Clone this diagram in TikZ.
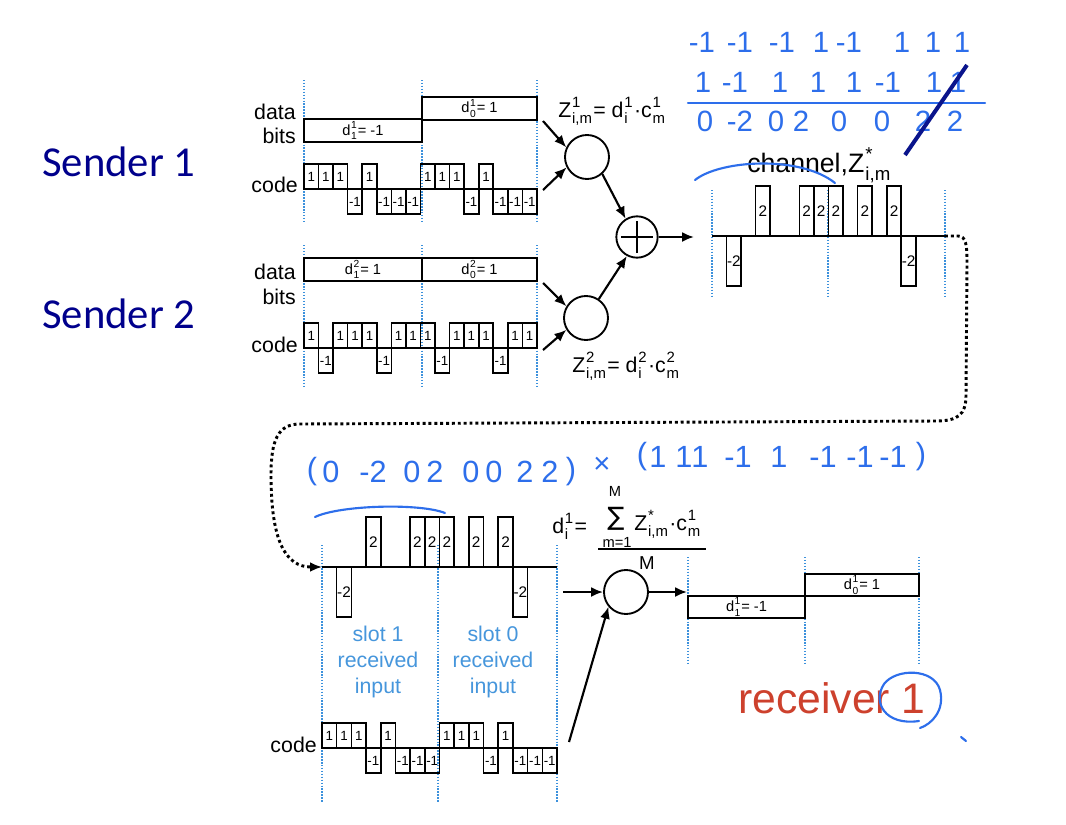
\documentclass[tikz,border=0pt]{standalone}
\usepackage{fontspec}
\setmainfont{Liberation Sans}
\newfontfamily\sendfont{Carlito}
\newfontfamily\dvs{DejaVu Sans}
\usepackage{graphicx}
\usetikzlibrary{arrows.meta}
\definecolor{guide}{RGB}{60,145,220}
\definecolor{slotblue}{RGB}{70,150,220}
\definecolor{hand}{RGB}{45,110,235}
\definecolor{navyslash}{RGB}{10,20,140}
\definecolor{sendcol}{RGB}{0,0,140}
\definecolor{recvred}{RGB}{205,65,45}
\newcommand{\fsz}[1]{\fontsize{#1}{#1}\selectfont}
\newcommand{\supb}[2]{%
  \setbox0\hbox{\scalebox{0.7}{#1}}%
  \setbox2\hbox{\scalebox{0.7}{#2}}%
  \kern0.04em\rlap{\raise0.85ex\copy0}\rlap{\lower0.6ex\copy2}%
  \ifdim\wd0>\wd2 \kern\wd0\else\kern\wd2\fi\kern0.06em}
\newcommand{\wave}[6]{%
  \foreach \v [count=\i from 0] in {#6}{%
    \ifnum\v=0\relax\else
      \pgfmathsetmacro{\cx}{#1+(\i+0.5)*#3}%
      \ifnum\v>0\relax\pgfmathsetmacro{\cy}{#2-#4/2}\else\pgfmathsetmacro{\cy}{#2+#4/2}\fi
      \node[chip, minimum width=#3*0.75pt, minimum height=#4*0.75pt] (#5\i) at (\cx,\cy) {\v};
    \fi}}
\newcommand{\dbox}[6]{%
  \node[databox, minimum width=(#4-#2)*0.75pt, minimum height=(#5-#3)*0.75pt] (#1) at ({(#2+#4)/2},{(#3+#5)/2}) {#6};}
\begin{document}
\begin{tikzpicture}[x=0.75pt,y=-0.75pt,
  line/.style={line width=1.3pt},
  chip/.style={draw, line width=1.2pt, inner sep=0pt, font=\fsz{10}},
  databox/.style={draw, line width=1.3pt, inner sep=0pt, font=\fsz{11}},
  guide/.style={draw=guide, line width=1.1pt, dash pattern=on 1.1pt off 1.1pt},
  circ/.style={draw, line width=1.4pt, circle, minimum size=33pt, inner sep=0pt},
  arr/.style={line width=1.6pt, -{Latex[length=9pt,width=7.5pt]}},
  dotconn/.style={line width=2.2pt, dash pattern=on 2.2pt off 2.2pt, -{Latex[length=9pt,width=7.5pt]}},
  lbl/.style={font=\fsz{16}, inner sep=0pt},
  formula/.style={font=\fsz{16}, inner sep=0pt},
  sender/.style={font=\sendfont\fsz{32}, text=sendcol, inner sep=0pt},
  slot/.style={font=\fontsize{16}{19.5}\selectfont, text=slotblue, align=center, inner sep=0pt},
  hand/.style={font=\fsz{22}, text=hand, inner sep=0pt},
  handline/.style={draw=hand, line width=1.6pt, line cap=round}
]
\useasboundingbox (0,0) rectangle (1066,824);
\fill[white] (0,0) rectangle (1066,824);

% guide lines
\foreach \x in {304,422,537} {\draw[guide] (\x,80) -- (\x,222); \draw[guide] (\x,245) -- (\x,388);}
\foreach \x in {712,828,945} \draw[guide] (\x,190) -- (\x,297);
\foreach \x in {322,438,557} \draw[guide] (\x,545) -- (\x,802);
\foreach \x in {688,805,919} \draw[guide] (\x,557) -- (\x,665);

% sender labels
\node[sender, anchor=base west] (snd1) at (42,176) {Sender 1};
\node[sender, anchor=base west] (snd2) at (42,328) {Sender 2};

% row labels
\node[lbl, anchor=base east] (s1data) at (296,119) {data};
\node[lbl, anchor=base east] (s1bits) at (296,143) {bits};
\node[lbl, anchor=base east] (s1code) at (298,192) {code};
\node[lbl, anchor=base east] (s2data) at (296,279) {data};
\node[lbl, anchor=base east] (s2bits) at (296,304) {bits};
\node[lbl, anchor=base east] (s2code) at (298,352) {code};
\node[lbl, anchor=base east] (rcodel) at (317,752) {code};

% data boxes
\dbox{s1b1}{304}{119}{422}{142}{d\supb{1}{1} = -1}
\dbox{s1b0}{422}{97}{537}{120}{d\supb{1}{0} = 1}
\dbox{s2b1}{304}{258}{422}{281}{d\supb{2}{1} = 1}
\dbox{s2b0}{422}{258}{537}{281}{d\supb{2}{0} = 1}
\dbox{rb1}{688}{596}{805}{618}{d\supb{1}{1} = -1}
\dbox{rb0}{805}{574}{919}{596}{d\supb{1}{0} = 1}

% code waveforms
\wave{304}{189}{14.56}{25}{sa}{1,1,1,-1,1,-1,-1,-1,1,1,1,-1,1,-1,-1,-1}
\wave{304}{348}{14.56}{25}{sb}{1,-1,1,1,1,-1,1,1,1,-1,1,1,1,-1,1,1}
\wave{322}{748}{14.69}{25}{rc}{1,1,1,-1,1,-1,-1,-1,1,1,1,-1,1,-1,-1,-1}

% channel waveforms
\coordinate (chstart) at (712,236);
\coordinate (chend) at (945,236);
\draw[line] (chstart) -- (chend);
\coordinate (lch0) at (322,567);
\coordinate (lch1) at (557,567);
\draw[line] (lch0) -- (lch1);
\begin{scope}[chip/.append style={font=\fsz{11.5}}]
\wave{712}{236}{14.56}{50}{ch}{0,-2,0,2,0,0,2,2,2,0,2,0,2,-2,0,0}
\wave{322}{567}{14.69}{50}{lc}{0,-2,0,2,0,0,2,2,2,0,2,0,2,-2,0,0}
\end{scope}

% circles
\node[circ] (c1) at (587,157) {};
\node[circ] (c2) at (586,318) {};
\node[circ, minimum size=31pt] (plus) at (637,237) {};
\draw[line width=2.2pt] ([xshift=-12pt]plus.center) -- ([xshift=12pt]plus.center);
\draw[line width=2.2pt] ([yshift=-12pt]plus.center) -- ([yshift=12pt]plus.center);
\node[circ] (rcirc) at (626,592) {};

% arrows
\coordinate (t1) at (543,121);
\coordinate (t2) at (543,190);
\coordinate (t3) at (543,283);
\coordinate (t4) at (543,350);
\draw[arr] (t1) -- (c1.155);
\draw[arr] (t2) -- (c1.207);
\draw[arr] (t3) -- (c2.149);
\draw[arr] (t4) -- (c2.211);
\draw[arr] (c1.-48) -- (plus.122);
\draw[arr] (c2.56) -- (plus.242);
\coordinate (chin) at (694,237);
\draw[arr] (plus.east) -- (chin);
\coordinate (rin) at (563,592);
\coordinate (rout) at (687,592);
\coordinate (rcode) at (569,742);
\draw[arr] (rin) -- (rcirc.west);
\draw[arr] (rcirc.east) -- (rout);
\draw[arr] (rcode) -- (rcirc.220);

% dotted loop from channel to receiver
\draw[dotconn] (chend) -- (958,236) .. controls (966,236) and (967,245) .. (967,262)
  -- (966,395) .. controls (966,415) and (958,421) .. (935,421)
  -- (300,424) .. controls (278,424) and (271,440) .. (271,475)
  .. controls (271,540) and (285,567) .. (lch0);

% formulas
\node[formula, anchor=base west] (z1) at (558,117) {Z\supb{1}{i,m}= d\supb{1}{i}·c\supb{1}{m}};
\node[formula, anchor=base west] (z2) at (572,372) {Z\supb{2}{i,m}= d\supb{2}{i}·c\supb{2}{m}};
\node[font=\fsz{20}, inner sep=0pt, anchor=base west] (chan) at (747,172) {channel,Z\supb{*}{i,m}};

\node[formula, anchor=base west] (rd) at (552,533) {d\supb{1}{i} =};
\node[font=\dvs\fsz{19}, inner sep=0pt] (rsum) at (616,519) {∑};
\node[font=\fsz{11}, inner sep=0pt] (rMtop) at (615,491) {M};
\node[font=\fsz{11}, inner sep=0pt] (rm1) at (617,542) {m=1};
\node[formula, anchor=base west] (rz) at (634,530) {Z\supb{*}{i,m}·c\supb{1}{m}};
\draw[line width=1.2pt] (598,549) -- (706,549);
\node[font=\fsz{14}, inner sep=0pt] (rMbot) at (647,563) {M};

% slot labels
\node[slot] (slot1) at (378,662) {slot 1\\received\\input};
\node[slot] (slot0) at (493,662) {slot 0\\received\\input};

% receiver label
\node[font=\fsz{32}, text=recvred, inner sep=0pt, anchor=base west] (recv) at (738,713) {receiver 1};

% handwritten annotations
\foreach \t/\x [count=\k] in {-1/702,-1/740,-1/782,1/821,-1/849,1/902,1/933,1/962}
  \node[hand] (ha\k) at (\x,42) {\t};
\foreach \t/\x [count=\k] in {1/703,-1/735,1/780,1/818,1/854,-1/888,1/934,1/958}
  \node[hand] (hb\k) at (\x,82) {\t};
\draw[handline] (688,103) -- (985,103);
\foreach \t/\x [count=\k] in {0/705,-2/740,0/776,2/801,0/839,0/882,2/923,2/955}
  \node[hand] (hc\k) at (\x,121) {\t};
\draw[navyslash, line width=3pt] (905,155) -- (967,65);
\draw[handline] (695,180) .. controls (720,160) and (800,155) .. (835,183);

\foreach \t/\x [count=\k] in {{(}/312,0/331,-2/373,0/412,2/435,0/471,0/494,2/525,2/550,{)}/571}
  \node[hand, font=\fsz{23}] (hd\k) at (\x,472) {\t};
\node[hand, font=\fsz{22}] (hx) at (602,465) {×};
\foreach \t/\x [count=\k] in {{(}/642,1/658,1/684,1/700,-1/738,1/779,-1/823,-1/860,-1/893,{)}/921}
  \node[hand, font=\fsz{23}] (he\k) at (\x,457) {\t};
\draw[handline] (315,517) .. controls (340,505) and (420,503) .. (445,513);

\draw[handline] (919,721) .. controls (885,726) and (872,702) .. (884,684)
  .. controls (896,668) and (934,668) .. (940,690)
  .. controls (945,710) and (932,724) .. (920,728);
\draw[handline] (961,737) -- (966,741);
\end{tikzpicture}
\end{document}
